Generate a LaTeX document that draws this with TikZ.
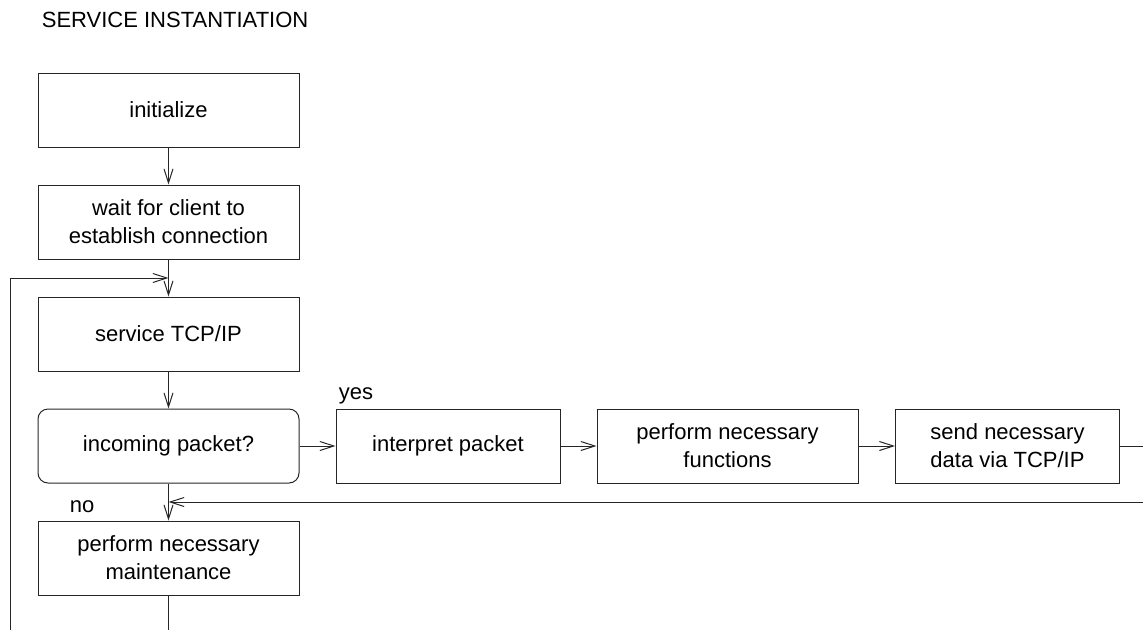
\documentclass[tikz,border=0pt]{standalone}
\usepackage{fontspec}
\setmainfont{Liberation Sans}
\usetikzlibrary{arrows.meta,calc}
\begin{document}
\begin{tikzpicture}[x=1pt,y=-1pt,
  line width=1pt,
  every node/.style={font=\fontsize{22}{28}\selectfont},
  box/.style={draw=black!85, line width=1pt, minimum width=261pt, minimum height=74pt, align=center, inner sep=0pt},
  rbox/.style={box, rounded corners=10pt},
  hbox/.style={box, minimum width=224pt},
  arr/.style={draw=black!85, -{Straight Barb[length=14pt,width=9pt,line width=1pt]}},
  ln/.style={draw=black!85}
]
\useasboundingbox (0,0) rectangle (1143,630);
\node[anchor=base west] (title) at (38,27) {SERVICE INSTANTIATION};
\node[box] (init) at (168.5,110) {initialize};
\node[box] (wait) at (168.5,222) {wait for client to\\establish connection};
\node[box] (svc) at (168.5,334) {service TCP/IP};
\node[rbox] (inc) at (168.5,446) {incoming packet?};
\node[box] (maint) at (168.5,558) {perform necessary\\maintenance};
\node[hbox] (interp) at (448,446) {interpret packet};
\node[box] (func) at (727.5,446) {perform necessary\\functions};
\node[hbox] (send) at (1007.5,446) {send necessary\\data via TCP/IP};
\node[anchor=base west] (yes) at (335,399) {yes};
\node[anchor=base west] (no) at (66,512) {no};
\coordinate (mbot) at (168.5,630);
\coordinate (lbot) at (10,630);
\coordinate (ljoin) at ($(wait.south)!.5!(svc.north)$);
\coordinate (rtop) at (1143,446);
\coordinate (rret) at (1143,502);
\coordinate (rjoin) at ($(inc.south)!.5!(maint.north)$);
\draw[arr] (init) -- (wait);
\draw[arr] (wait) -- (svc);
\draw[arr] (svc) -- (inc);
\draw[arr] (inc) -- (maint);
\draw[arr] (inc) -- (interp);
\draw[arr] (interp) -- (func);
\draw[arr] (func) -- (send);
\draw[ln] (maint) -- (mbot);
\draw[arr] (lbot) |- (ljoin);
\draw[ln] (send.east) -- (rtop);
\draw[arr] (rret) -- (rjoin);
\end{tikzpicture}
\end{document}
